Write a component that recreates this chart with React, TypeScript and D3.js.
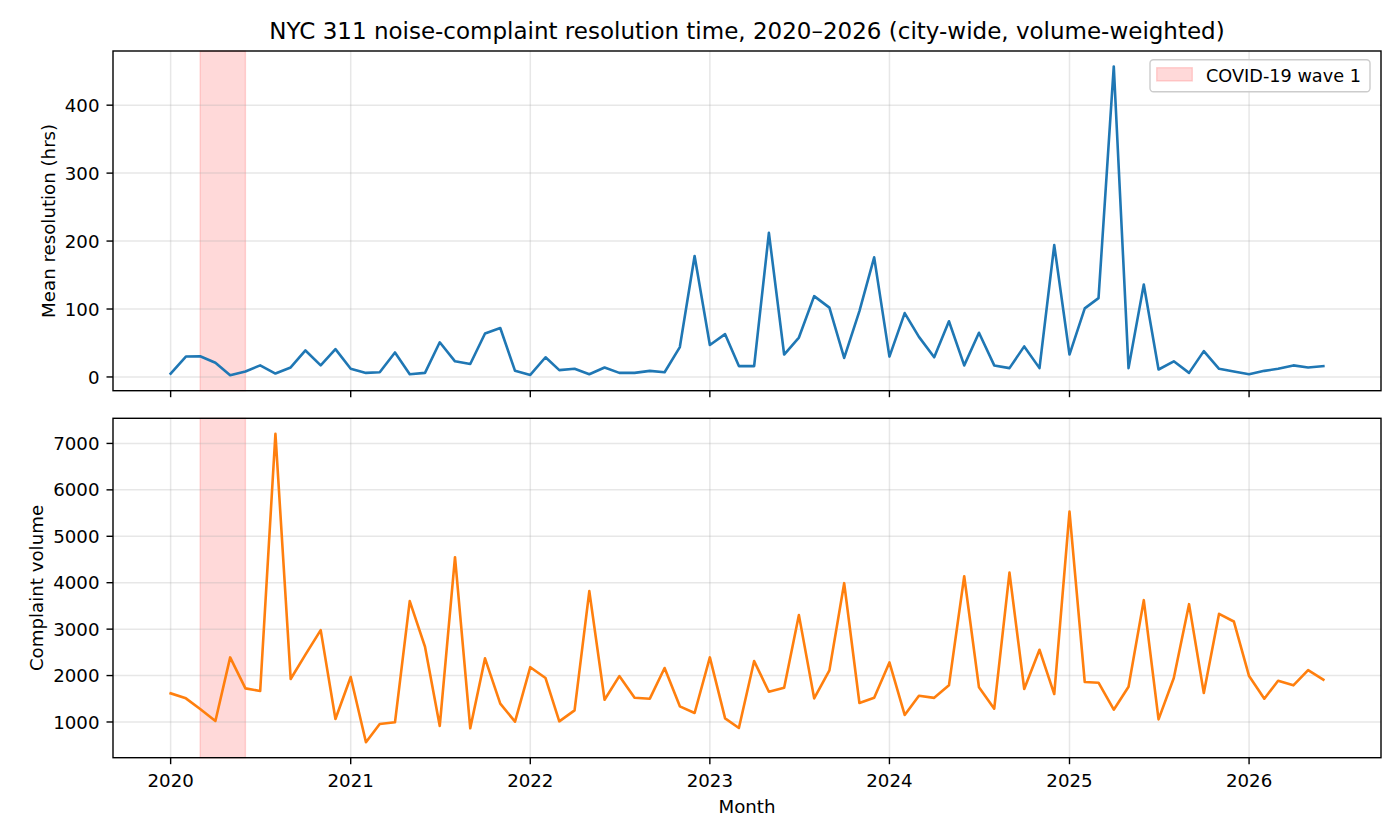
import { useEffect, useRef } from "react";
import * as d3 from "d3";

// Monthly series, Jan 2020 .. Jun 2026
const FIRST_MONTH = new Date(2020, 0, 1);
const LAST_MONTH = new Date(2026, 5, 1);
const MONTHS = d3.timeMonth.range(FIRST_MONTH, d3.timeMonth.offset(LAST_MONTH, 1));

const RESOLUTION_HRS = [
  5, 30, 30.5, 21, 2.5, 8, 17, 5, 14, 39, 17, 41,
  12, 6, 7, 36, 4, 6, 51, 23, 19, 64, 72, 9,
  3, 29, 10, 12, 4, 14, 6, 6, 9, 7, 44, 178,
  47, 63, 16, 16, 212, 33, 58, 119, 102, 28, 97, 176,
  30, 94, 59, 29, 82, 17, 65, 17, 13, 45, 13, 194,
  33, 101, 116, 457, 13, 136, 11, 23, 6, 38, 12, 8,
  4, 9, 12, 17, 14, 16,
];

const COMPLAINT_VOLUME = [
  1617, 1509, 1280, 1022, 2391, 1724, 1667, 7209, 1925, 2450, 2979, 1065,
  1968, 563, 957, 993, 3603, 2620, 914, 4549, 864, 2370, 1394, 1007,
  2180, 1946, 1014, 1251, 3818, 1480, 1989, 1523, 1502, 2162, 1337, 1194,
  2391, 1079, 871, 2312, 1652, 1739, 3302, 1509, 2111, 3990, 1409, 1523,
  2283, 1151, 1566, 1520, 1790, 4140, 1746, 1287, 4219, 1710, 2556, 1602,
  5531, 1860, 1846, 1265, 1760, 3624, 1057, 1946, 3538, 1624, 3330, 3165,
  1989, 1502, 1889, 1789, 2118, 1911,
];

const YEAR_TICKS = [2020, 2021, 2022, 2023, 2024, 2025, 2026];
const RESOLUTION_TICKS = [0, 100, 200, 300, 400];
const VOLUME_TICKS = [1000, 2000, 3000, 4000, 5000, 6000, 7000];
const COVID_WAVE = [new Date(2020, 2, 1), new Date(2020, 5, 1)];

const FONT = "DejaVu Sans, Verdana, sans-serif";

export default function App() {
  const svgRef = useRef<SVGSVGElement>(null);

  useEffect(() => {
    if (!svgRef.current) return;

    const width = 1400;
    const height = 840;
    const left = 113;
    const right = 1381;
    const tickLen = 6.5;
    const tickFont = 18.2;

    d3.select(svgRef.current).selectAll("*").remove();
    const svg = d3
      .select(svgRef.current)
      .attr("width", width)
      .attr("height", height)
      .attr("viewBox", `0 0 ${width} ${height}`)
      .style("font-family", FONT);

    svg.append("rect").attr("width", width).attr("height", height).attr("fill", "white");

    // matplotlib-style 5% margins
    const span = +LAST_MONTH - +FIRST_MONTH;
    const x = d3
      .scaleTime()
      .domain([new Date(+FIRST_MONTH - span * 0.05), new Date(+LAST_MONTH + span * 0.05)])
      .range([left, right]);

    const padDomain = (vals: number[]): [number, number] => {
      const [lo, hi] = d3.extent(vals) as [number, number];
      const m = (hi - lo) * 0.05;
      return [lo - m, hi + m];
    };

    const yearDates = YEAR_TICKS.map((yr) => new Date(yr, 0, 1));

    const panels = [
      {
        values: RESOLUTION_HRS,
        ticks: RESOLUTION_TICKS,
        color: "#1f77b4",
        label: "Mean resolution (hrs)",
        top: 51,
        bottom: 390.7,
        xLabels: false,
        legend: true,
      },
      {
        values: COMPLAINT_VOLUME,
        ticks: VOLUME_TICKS,
        color: "#ff7f0e",
        label: "Complaint volume",
        top: 418.3,
        bottom: 757.7,
        xLabels: true,
        legend: false,
      },
    ];

    panels.forEach((p) => {
      const y = d3.scaleLinear().domain(padDomain(p.values)).range([p.bottom, p.top]);
      const g = svg.append("g");

      // COVID shading
      g.append("rect")
        .attr("x", x(COVID_WAVE[0]))
        .attr("y", p.top)
        .attr("width", x(COVID_WAVE[1]) - x(COVID_WAVE[0]))
        .attr("height", p.bottom - p.top)
        .attr("fill", "red")
        .attr("fill-opacity", 0.15)
        .attr("stroke", "red")
        .attr("stroke-opacity", 0.15)
        .attr("stroke-width", 1.4);

      // grid
      g.selectAll(".vgrid")
        .data(yearDates)
        .join("line")
        .attr("x1", (d) => x(d))
        .attr("x2", (d) => x(d))
        .attr("y1", p.top)
        .attr("y2", p.bottom)
        .attr("stroke", "#b0b0b0")
        .attr("stroke-opacity", 0.3)
        .attr("stroke-width", 1.5);
      g.selectAll(".hgrid")
        .data(p.ticks)
        .join("line")
        .attr("x1", left)
        .attr("x2", right)
        .attr("y1", (d) => y(d))
        .attr("y2", (d) => y(d))
        .attr("stroke", "#b0b0b0")
        .attr("stroke-opacity", 0.3)
        .attr("stroke-width", 1.5);

      // series line
      const line = d3
        .line<number>()
        .x((_, i) => x(MONTHS[i]))
        .y((d) => y(d));
      g.append("path")
        .datum(p.values)
        .attr("d", line)
        .attr("fill", "none")
        .attr("stroke", p.color)
        .attr("stroke-width", 2.6)
        .attr("stroke-linejoin", "round")
        .attr("stroke-linecap", "square");

      // frame
      g.append("rect")
        .attr("x", left)
        .attr("y", p.top)
        .attr("width", right - left)
        .attr("height", p.bottom - p.top)
        .attr("fill", "none")
        .attr("stroke", "black")
        .attr("stroke-width", 1.4);

      // y ticks
      let labelLeft = left;
      p.ticks.forEach((t) => {
        g.append("line")
          .attr("x1", left - tickLen)
          .attr("x2", left)
          .attr("y1", y(t))
          .attr("y2", y(t))
          .attr("stroke", "black")
          .attr("stroke-width", 1.4);
        const txt = g
          .append("text")
          .attr("x", left - tickLen - 7)
          .attr("y", y(t))
          .attr("dy", "0.36em")
          .attr("text-anchor", "end")
          .attr("font-size", tickFont)
          .attr("fill", "black")
          .text(t);
        const w = (txt.node() as SVGTextElement).getComputedTextLength();
        labelLeft = Math.min(labelLeft, left - tickLen - 7 - w);
      });

      // x ticks
      yearDates.forEach((d, i) => {
        g.append("line")
          .attr("x1", x(d))
          .attr("x2", x(d))
          .attr("y1", p.bottom)
          .attr("y2", p.bottom + tickLen)
          .attr("stroke", "black")
          .attr("stroke-width", 1.4);
        if (p.xLabels) {
          g.append("text")
            .attr("x", x(d))
            .attr("y", p.bottom + 29)
            .attr("text-anchor", "middle")
            .attr("font-size", tickFont)
            .attr("fill", "black")
            .text(YEAR_TICKS[i]);
        }
      });

      // y label, placed just left of the widest tick label
      g.append("text")
        .attr("transform", `translate(${labelLeft - 10},${(p.top + p.bottom) / 2}) rotate(-90)`)
        .attr("text-anchor", "middle")
        .attr("font-size", tickFont)
        .attr("fill", "black")
        .text(p.label);

      if (p.legend) {
        const lg = g.append("g");
        lg.append("rect")
          .attr("x", 1150)
          .attr("y", 59.7)
          .attr("width", 220)
          .attr("height", 32)
          .attr("rx", 3.5)
          .attr("fill", "white")
          .attr("fill-opacity", 0.8)
          .attr("stroke", "#cccccc")
          .attr("stroke-width", 1.4);
        lg.append("rect")
          .attr("x", 1156.7)
          .attr("y", 67.7)
          .attr("width", 35.6)
          .attr("height", 13.3)
          .attr("fill", "red")
          .attr("fill-opacity", 0.15)
          .attr("stroke", "red")
          .attr("stroke-opacity", 0.15)
          .attr("stroke-width", 1.4);
        lg.append("text")
          .attr("x", 1206)
          .attr("y", 81.7)
          .attr("font-size", 17.7)
          .attr("fill", "black")
          .text("COVID-19 wave 1");
      }
    });

    // title and x label
    svg
      .append("text")
      .attr("x", (left + right) / 2)
      .attr("y", 39.3)
      .attr("text-anchor", "middle")
      .attr("font-size", 23)
      .attr("fill", "black")
      .text("NYC 311 noise-complaint resolution time, 2020–2026 (city-wide, volume-weighted)");

    svg
      .append("text")
      .attr("x", (left + right) / 2)
      .attr("y", 813.3)
      .attr("text-anchor", "middle")
      .attr("font-size", tickFont)
      .attr("fill", "black")
      .text("Month");
  }, []);

  return (
    <svg
      ref={svgRef}
      style={{ position: "absolute", left: 0, top: 0, display: "block" }}
    />
  );
}
